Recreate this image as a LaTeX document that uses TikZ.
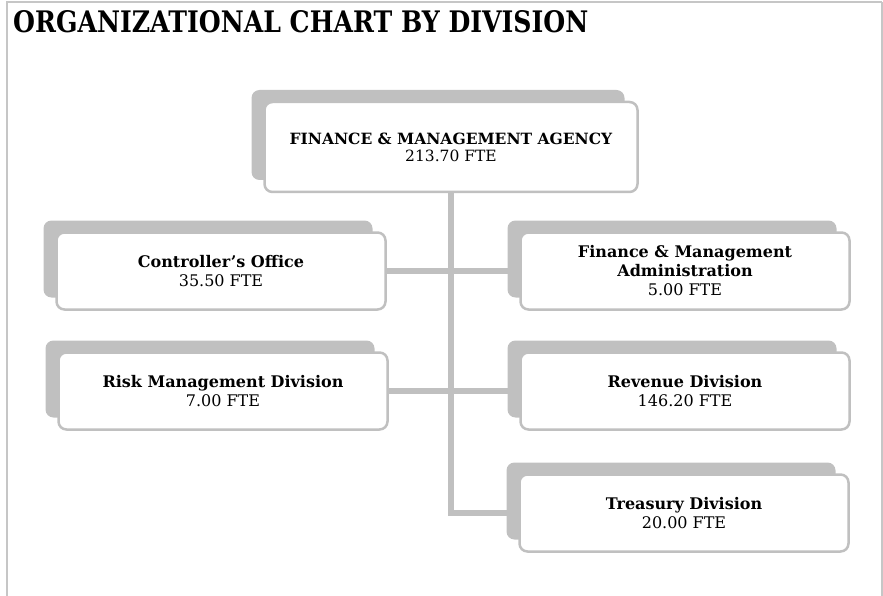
\documentclass[tikz,border=0pt]{standalone}
\usepackage{fontspec}
\setmainfont{DejaVu Serif}
\usepackage{graphicx}
\usetikzlibrary{shadows}
\definecolor{LGr}{RGB}{192,192,192}
\definecolor{FGr}{RGB}{198,198,198}

\begin{document}
\begin{tikzpicture}[x=1pt, y=-1pt,
  unit/.style={draw=LGr, line width=2.5pt, fill=white, rounded corners=8pt,
    inner sep=0pt, align=center, font=\fontsize{16}{19}\selectfont,
    minimum width=329pt, minimum height=77pt,
    drop shadow={shadow xshift=-13pt, shadow yshift=12pt, fill=LGr, opacity=1, draw=none}},
  link/.style={draw=LGr, line width=6pt}]
\useasboundingbox (0,0) rectangle (883,596);

% Page frame
\draw[FGr, line width=2pt] (7,596) -- (7,2.5) -- (882,2.5);
\draw[FGr, line width=1.2pt] (882,2.5) -- (882,596);

% Title
\node[anchor=south west, inner sep=0pt] (title) at (13,33)
  {\resizebox{575pt}{22pt}{\bfseries ORGANIZATIONAL CHART BY DIVISION}};

% Boxes
\node[unit, minimum width=373pt, minimum height=90pt, font=\fontsize{15.5}{17}\selectfont]
  (agency) at (451,147) {\textbf{FINANCE \& MANAGEMENT AGENCY}\\213.70 FTE};
\node[unit] (controller) at (221,271) {\textbf{Controller’s Office}\\35.50 FTE};
\node[unit] (admin) at (685,271)
  {\textbf{Finance \& Management}\\\textbf{Administration}\\5.00 FTE};
\node[unit] (risk) at (223,391) {\textbf{Risk Management Division}\\7.00 FTE};
\node[unit] (revenue) at (685,391) {\textbf{Revenue Division}\\146.20 FTE};
\node[unit] (treasury) at (684,513) {\textbf{Treasury Division}\\20.00 FTE};

% Connectors
\draw[link] (agency.south) |- (treasury.west);
\draw[link] (controller.east) -- (admin.west);
\draw[link] (risk.east) -- (revenue.west);
\end{tikzpicture}
\end{document}
